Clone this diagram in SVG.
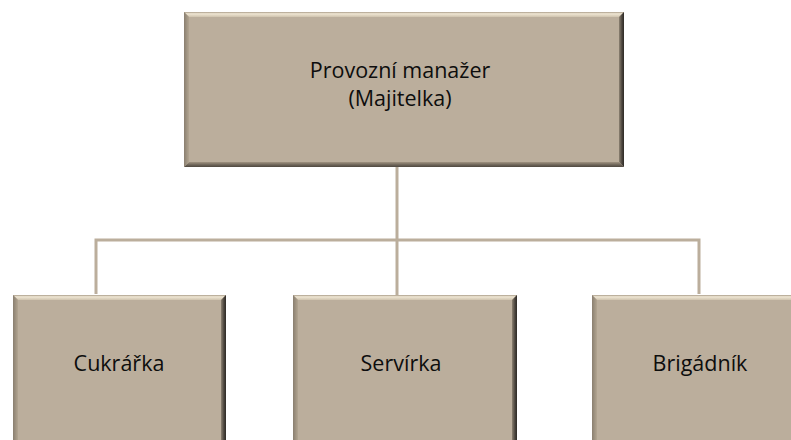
<svg xmlns="http://www.w3.org/2000/svg" width="791" height="440" viewBox="0 0 791 440">
  <defs>
    <linearGradient id="gTop" x1="0" y1="0" x2="0" y2="1">
      <stop offset="0" stop-color="#a89b88"/>
      <stop offset="0.35" stop-color="#efe6d3"/>
      <stop offset="1" stop-color="#cfc3ae"/>
    </linearGradient>
    <linearGradient id="gRight" x1="0" y1="0" x2="1" y2="0">
      <stop offset="0" stop-color="#8d8272"/>
      <stop offset="0.6" stop-color="#4a443d"/>
      <stop offset="1" stop-color="#2e2a26"/>
    </linearGradient>
    <linearGradient id="gBottom" x1="0" y1="0" x2="0" y2="1">
      <stop offset="0" stop-color="#a09380"/>
      <stop offset="0.6" stop-color="#6b6257"/>
      <stop offset="1" stop-color="#4e4840"/>
    </linearGradient>
    <linearGradient id="gLeft" x1="0" y1="0" x2="1" y2="0">
      <stop offset="0" stop-color="#8a7f70"/>
      <stop offset="1" stop-color="#b2a591"/>
    </linearGradient>
  </defs>
  <style>
    .face { fill: #bbae9c; }
    .bt { fill: url(#gTop); }
    .br { fill: url(#gRight); }
    .bb { fill: url(#gBottom); }
    .bl { fill: url(#gLeft); }
    .label { font-family: "Open Sans", "Liberation Sans", sans-serif; font-size: 21.5px; fill: #0d0d0d; text-anchor: middle; }
    .link { stroke: #bbae9c; stroke-width: 3; fill: none; }
  </style>

  <!-- connectors -->
  <g id="connectors">
    <path class="link" d="M397 167 V295"/>
    <path class="link" d="M96 294 V240 H699 V294"/>
  </g>

  <!-- top node -->
  <g id="node-manager">
    <rect class="face" x="184" y="12" width="440" height="155"/>
    <polygon class="bt" points="184,12 624,12 619,17 189,17"/>
    <polygon class="br" points="624,12 624,167 619,162 619,17"/>
    <polygon class="bb" points="184,167 624,167 619,162 189,162"/>
    <polygon class="bl" points="184,12 189,17 189,162 184,167"/>
    <text class="label" x="400" y="78">Provozní manažer</text>
    <text class="label" x="400" y="106">(Majitelka)</text>
  </g>

  <g id="node-cukrarka">
    <rect class="face" x="13" y="295" width="213" height="150"/>
    <polygon class="bt" points="13,295 226,295 221,300 18,300"/>
    <polygon class="br" points="226,295 226,445 221,445 221,300"/>
    <polygon class="bl" points="13,295 18,300 18,445 13,445"/>
    <text class="label" x="119" y="371">Cukrářka</text>
  </g>

  <g id="node-servirka">
    <rect class="face" x="293" y="295" width="224" height="150"/>
    <polygon class="bt" points="293,295 517,295 512,300 298,300"/>
    <polygon class="br" points="517,295 517,445 512,445 512,300"/>
    <polygon class="bl" points="293,295 298,300 298,445 293,445"/>
    <text class="label" x="401" y="371">Servírka</text>
  </g>

  <g id="node-brigadnik">
    <rect class="face" x="592" y="295" width="224" height="150"/>
    <polygon class="bt" points="592,295 816,295 811,300 597,300"/>
    <polygon class="bl" points="592,295 597,300 597,445 592,445"/>
    <text class="label" x="700" y="371">Brigádník</text>
  </g>
</svg>
